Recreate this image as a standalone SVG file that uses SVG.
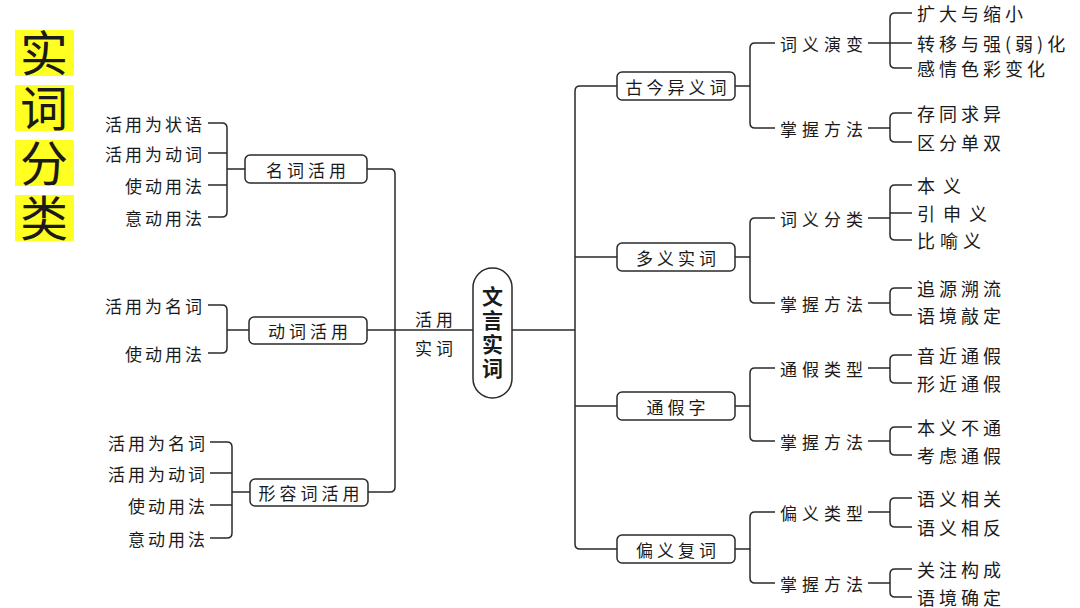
<svg xmlns="http://www.w3.org/2000/svg" width="1080" height="608" viewBox="0 0 1080 608">
<style>
text{font-family:"Noto Sans CJK SC","Noto Sans",sans-serif;fill:#1a1a1a;dominant-baseline:central}
.title{font-size:48px;text-anchor:middle;writing-mode:vertical-rl;text-orientation:upright;letter-spacing:7px}
.box{fill:#fff;stroke:#2a2a2a;stroke-width:1.5}
.bt{font-size:17px;letter-spacing:4px;text-anchor:middle}
.ll{font-size:17px;letter-spacing:3px;text-anchor:end}
.rl{font-size:18px;letter-spacing:4px}
.sl{font-size:17px;letter-spacing:5px}
.ct{font-size:17px;letter-spacing:4px;text-anchor:middle}
.pt{font-size:21px;font-weight:bold;text-anchor:middle;writing-mode:vertical-rl;text-orientation:upright;letter-spacing:3px}
.conn path{fill:none;stroke:#2a2a2a;stroke-width:1.5}
</style>
<rect width="1080" height="608" fill="#fff"/>
<g id="title">
<rect x="15" y="30" width="59" height="46" fill="#ffff22"/>
<rect x="15" y="85" width="59" height="46" fill="#ffff22"/>
<rect x="15" y="140" width="59" height="46" fill="#ffff22"/>
<rect x="15" y="195" width="59" height="46" fill="#ffff22"/>
<text class="title" x="44" y="139">实词分类</text>
</g>
<g class="conn" id="connectors">
<path d="M208,123 H222 Q227,123 227,128 V212 Q227,217 222,217 H208 M208,153 H227 M208,185 H227 M227,169 H245"/>
<path d="M208,305 H222 Q227,305 227,310 V348 Q227,353 222,353 H208 M227,330 H249"/>
<path d="M210,442 H227 Q232,442 232,447 V533 Q232,538 227,538 H210 M210,473 H232 M210,505 H232 M232,492 H250"/>
<path d="M367,169 H390 Q395,169 395,174 V487 Q395,492 390,492 H368"/>
<path d="M367,330 H473"/>
<path d="M512,330 H575"/>
<path d="M617,86 H580 Q575,86 575,91 V544 Q575,549 580,549 H617 M575,257 H617 M575,406 H617"/>
<path d="M735,86 H750 M775,43 H755 Q750,43 750,48 V123 Q750,128 755,128 H775"/>
<path d="M868,43 H890 M912,13 H895 Q890,13 890,18 V63 Q890,68 895,68 H912 M890,43 H912"/>
<path d="M868,128 H890 M912,113 H895 Q890,113 890,118 V137 Q890,142 895,142 H912"/>
<path d="M735,257 H750 M775,218 H755 Q750,218 750,223 V298 Q750,303 755,303 H775"/>
<path d="M868,218 H890 M912,185 H895 Q890,185 890,190 V235 Q890,240 895,240 H912 M890,213 H912"/>
<path d="M868,303 H890 M912,288 H895 Q890,288 890,293 V310 Q890,315 895,315 H912"/>
<path d="M735,406 H750 M775,368 H755 Q750,368 750,373 V436 Q750,441 755,441 H775"/>
<path d="M868,368 H890 M912,355 H895 Q890,355 890,360 V378 Q890,383 895,383 H912"/>
<path d="M868,441 H890 M912,427 H895 Q890,427 890,432 V450 Q890,455 895,455 H912"/>
<path d="M735,549 H750 M775,512 H755 Q750,512 750,517 V578 Q750,583 755,583 H775"/>
<path d="M868,512 H890 M912,498 H895 Q890,498 890,503 V522 Q890,527 895,527 H912"/>
<path d="M868,583 H890 M912,569 H895 Q890,569 890,574 V592 Q890,597 895,597 H912"/>
</g>
<g id="n-mingci">
<rect class="box" x="245" y="155" width="122" height="28" rx="5"/>
<text class="bt" x="308" y="169">名词活用</text>
<text class="ll" x="205" y="123">活用为状语</text>
<text class="ll" x="205" y="153">活用为动词</text>
<text class="ll" x="205" y="185">使动用法</text>
<text class="ll" x="205" y="217">意动用法</text>
</g>
<g id="n-dongci">
<rect class="box" x="249" y="317" width="118" height="27" rx="5"/>
<text class="bt" x="310" y="330">动词活用</text>
<text class="ll" x="205" y="305">活用为名词</text>
<text class="ll" x="205" y="353">使动用法</text>
</g>
<g id="n-xingrong">
<rect class="box" x="250" y="479" width="118" height="27" rx="5"/>
<text class="bt" x="311" y="492">形容词活用</text>
<text class="ll" x="208" y="442">活用为名词</text>
<text class="ll" x="208" y="473">活用为动词</text>
<text class="ll" x="208" y="505">使动用法</text>
<text class="ll" x="208" y="538">意动用法</text>
</g>
<g id="n-center">
<text class="ct" x="436" y="318">活用</text>
<text class="ct" x="436" y="347">实词</text>
<rect class="box" x="473" y="268" width="39" height="130" rx="19.5"/>
<text class="pt" x="492.5" y="334">文言实词</text>
</g>
<g id="n-gujin">
<rect class="box" x="617" y="72" width="118" height="28" rx="5"/>
<text class="bt" x="678" y="86">古今异义词</text>
<text class="sl" x="780" y="43">词义演变</text>
<text class="sl" x="780" y="128">掌握方法</text>
<text class="rl" x="917" y="13">扩大与缩小</text>
<text class="rl" x="917" y="43">转移与强(弱)化</text>
<text class="rl" x="917" y="68">感情色彩变化</text>
<text class="rl" x="917" y="113">存同求异</text>
<text class="rl" x="917" y="142">区分单双</text>
</g>
<g id="n-duoyi">
<rect class="box" x="617" y="243" width="118" height="28" rx="5"/>
<text class="bt" x="678" y="257">多义实词</text>
<text class="sl" x="780" y="218">词义分类</text>
<text class="sl" x="780" y="303">掌握方法</text>
<text class="rl" x="917" y="185" style="letter-spacing:8px">本义</text>
<text class="rl" x="917" y="213" style="letter-spacing:8px">引申义</text>
<text class="rl" x="917" y="240" style="letter-spacing:5px">比喻义</text>
<text class="rl" x="917" y="288">追源溯流</text>
<text class="rl" x="917" y="315">语境敲定</text>
</g>
<g id="n-tongjia">
<rect class="box" x="617" y="392" width="118" height="28" rx="5"/>
<text class="bt" x="678" y="406">通假字</text>
<text class="sl" x="780" y="368">通假类型</text>
<text class="sl" x="780" y="441">掌握方法</text>
<text class="rl" x="917" y="355">音近通假</text>
<text class="rl" x="917" y="383">形近通假</text>
<text class="rl" x="917" y="427">本义不通</text>
<text class="rl" x="917" y="455">考虑通假</text>
</g>
<g id="n-pianyi">
<rect class="box" x="617" y="535" width="118" height="28" rx="5"/>
<text class="bt" x="678" y="549">偏义复词</text>
<text class="sl" x="780" y="512">偏义类型</text>
<text class="sl" x="780" y="583">掌握方法</text>
<text class="rl" x="917" y="498">语义相关</text>
<text class="rl" x="917" y="527">语义相反</text>
<text class="rl" x="917" y="569">关注构成</text>
<text class="rl" x="917" y="597">语境确定</text>
</g>
</svg>
